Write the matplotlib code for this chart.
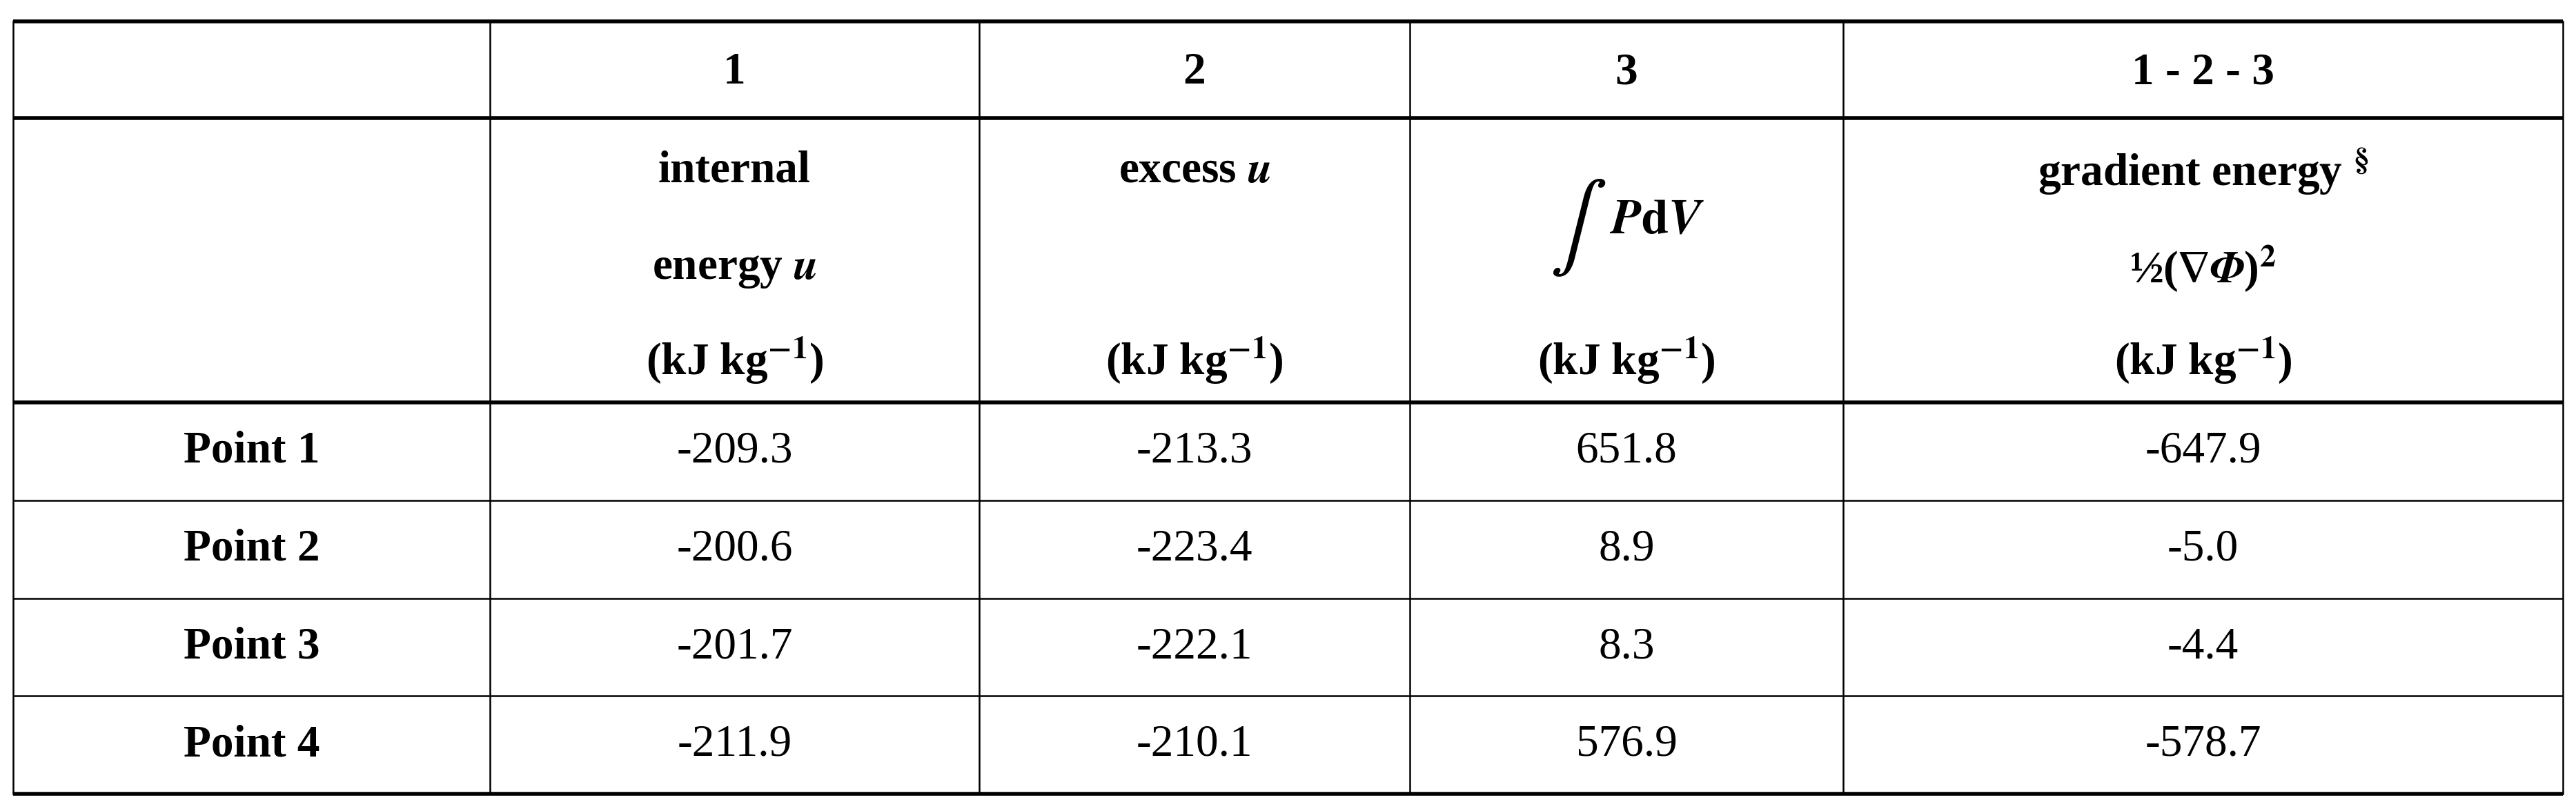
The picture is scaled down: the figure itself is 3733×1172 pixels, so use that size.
import matplotlib
matplotlib.use('Agg')
import matplotlib.pyplot as plt

plt.rcParams['font.family'] = ['Liberation Serif', 'DejaVu Serif']
plt.rcParams['mathtext.fontset'] = 'stix'

# table content
col_numbers = ['1', '2', '3', '1 - 2 - 3']
col_names = [['internal', r'energy $\mathbfit{u}$', r'(kJ kg$^{\mathbf{-1}}$)'],
             [r'excess $\mathbfit{u}$', '', r'(kJ kg$^{\mathbf{-1}}$)'],
             ['', '', r'(kJ kg$^{\mathbf{-1}}$)'],
             [r'gradient energy $^{\mathbf{\S}}$', r'½($\mathbf{\nabla}\mathbfit{\Phi}$)$^{\mathbf{2}}$', r'(kJ kg$^{\mathbf{-1}}$)']]
row_labels = ['Point 1', 'Point 2', 'Point 3', 'Point 4']
internal_u = [-209.3, -200.6, -201.7, -211.9]
excess_u = [-213.3, -223.4, -222.1, -210.1]
pdv = [651.8, 8.9, 8.3, 576.9]
gradient = [-647.9, -5.0, -4.4, -578.7]

W, H = 3733, 1172
fig = plt.figure(figsize=(W / 100, H / 100), dpi=100)
ax = fig.add_axes([0, 0, 1, 1])
ax.set_xlim(0, W)
ax.set_ylim(H, 0)
ax.axis('off')

xs = [19, 710, 1419, 2043, 2671, 3714]
ys = [31, 171, 583, 725, 867, 1008, 1150]
thick = {31, 171, 583, 1150}
for y in ys:
    ax.plot([xs[0], xs[-1]], [y, y], color='black', lw=4 if y in thick else 1.8,
            solid_capstyle='butt')
for x in xs:
    ax.plot([x, x], [ys[0], ys[-1]], color='black', lw=1.8)

centers = [(xs[i] + xs[i + 1]) / 2 for i in range(5)]
fs = 47

for i, t in enumerate(col_numbers):
    ax.text(centers[i + 1], 105, t, ha='center', va='center', fontsize=fs, fontweight='bold')

line_y = [248, 390, 522]
for i, lines in enumerate(col_names):
    for j, t in enumerate(lines):
        if t:
            ax.text(centers[i + 1], line_y[j], t, ha='center', va='center',
                    fontsize=fs, fontweight='bold')
# integral sign drawn large, then P dV beside it
ax.text(centers[3] - 70, 330, r'$\int$', ha='center', va='center', fontsize=fs * 1.9)
ax.text(centers[3] + 45, 320, r'$\mathbfit{P}\mathbf{d}\mathbfit{V}$', ha='center', va='center',
        fontsize=fs + 4)

for r, lab in enumerate(row_labels):
    yc = (ys[r + 2] + ys[r + 3]) / 2
    ax.text(centers[0], yc, lab, ha='center', va='center', fontsize=fs, fontweight='bold')
    for c, vals in enumerate([internal_u, excess_u, pdv, gradient]):
        ax.text(centers[c + 1], yc, f'{vals[r]:.1f}', ha='center', va='center', fontsize=fs)

fig.savefig('out.png', dpi=100, facecolor='white')
